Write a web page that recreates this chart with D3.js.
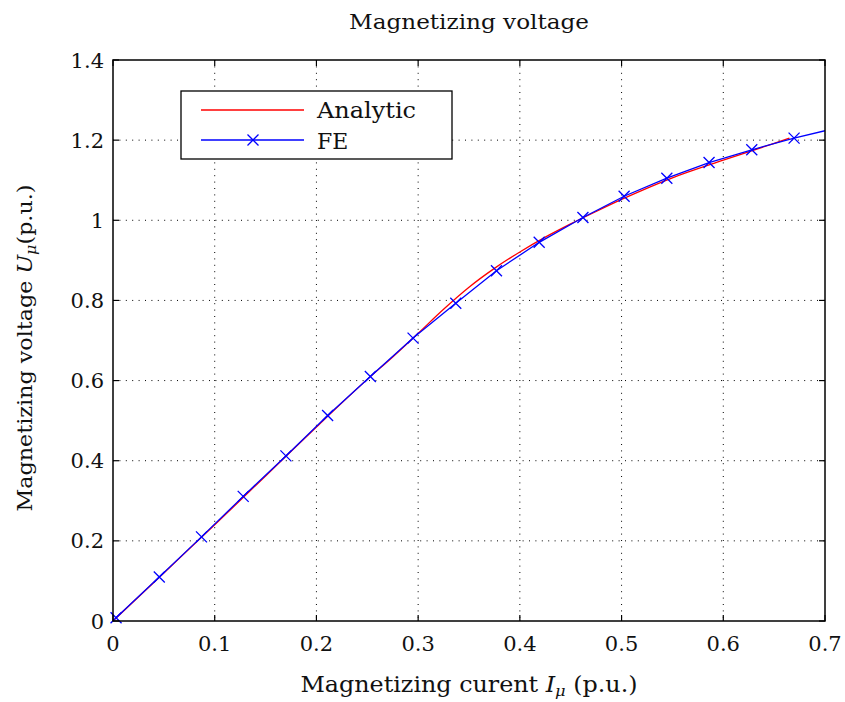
<!DOCTYPE html>
<html><head><meta charset="utf-8">
<script src="https://cdn.jsdelivr.net/npm/d3@7"></script>
<style>
body{margin:0;background:#fff;}
text{font-family:"DejaVu Serif","Liberation Serif",serif;fill:#111;}
</style></head><body>
<svg id="c" width="845" height="702"></svg>
<script>
const feX = [0.003,0.0455,0.087,0.128,0.170,0.211,0.253,0.295,0.337,0.377,0.419,0.462,0.5025,0.5445,0.586,0.628,0.6696,0.70];
const feY = [0.008,0.110,0.210,0.311,0.412,0.513,0.610,0.706,0.793,0.874,0.945,1.007,1.060,1.105,1.144,1.176,1.205,1.2235];
const feMarkers = 17; // markers on first 17 points
const anX = [0,0.05,0.1,0.15,0.2,0.25,0.275,0.3,0.325,0.35,0.375,0.4,0.425,0.45,0.475,0.5,0.55,0.6,0.65,0.665];
const anY = [0,0.12,0.24,0.362,0.484,0.603,0.659,0.718,0.778,0.833,0.880,0.921,0.958,0.991,1.022,1.052,1.106,1.150,1.192,1.205];
const xTicks = [0,0.1,0.2,0.3,0.4,0.5,0.6,0.7];
const yTicks = [0,0.2,0.4,0.6,0.8,1,1.2,1.4];

const svg = d3.select("#c");
const L=113,R=825,T=60,B=621;
const x = d3.scaleLinear().domain([0,0.7]).range([L,R]);
const y = d3.scaleLinear().domain([0,1.4]).range([B,T]);

const g = svg.append("g");
xTicks.slice(1,-1).forEach(t=>{
  g.append("line").attr("x1",x(t)).attr("x2",x(t)).attr("y1",T).attr("y2",B)
   .attr("stroke","#000").attr("stroke-width",1).attr("stroke-dasharray","1,5.4");
});
yTicks.slice(1,-1).forEach(t=>{
  g.append("line").attr("x1",L).attr("x2",R).attr("y1",y(t)).attr("y2",y(t))
   .attr("stroke","#000").attr("stroke-width",1).attr("stroke-dasharray","1,5.4");
});

svg.append("clipPath").attr("id","clp").append("rect").attr("x",L).attr("y",T).attr("width",R-L).attr("height",B-T);

const line = d3.line().x(d=>x(d[0])).y(d=>y(d[1])).curve(d3.curveMonotoneX);
const an = anX.map((v,i)=>[v,anY[i]]);
const fe = feX.map((v,i)=>[v,feY[i]]);
svg.append("path").datum(an).attr("d",line).attr("fill","none").attr("stroke","#ff0000").attr("stroke-width",1.3).attr("clip-path","url(#clp)");
const lineLin = d3.line().x(d=>x(d[0])).y(d=>y(d[1]));
svg.append("path").datum(fe).attr("d",lineLin).attr("fill","none").attr("stroke","#0000ff").attr("stroke-width",1.3).attr("clip-path","url(#clp)");

const s=5.5;
function cross(sel,cx,cy){
  sel.append("path").attr("d",`M${cx-s},${cy-s}L${cx+s},${cy+s}M${cx-s},${cy+s}L${cx+s},${cy-s}`)
   .attr("stroke","#0000ff").attr("stroke-width",1.3).attr("fill","none");
}
fe.slice(0,feMarkers).forEach(d=>cross(svg,x(d[0]),y(d[1])));

svg.append("rect").attr("x",L).attr("y",T).attr("width",R-L).attr("height",B-T).attr("fill","none").attr("stroke","#000").attr("stroke-width",1.5);

const tk=6;
xTicks.forEach(t=>{
  svg.append("line").attr("x1",x(t)).attr("x2",x(t)).attr("y1",B).attr("y2",B-tk).attr("stroke","#000").attr("stroke-width",1.2);
  svg.append("line").attr("x1",x(t)).attr("x2",x(t)).attr("y1",T).attr("y2",T+tk).attr("stroke","#000").attr("stroke-width",1.2);
  svg.append("text").attr("x",x(t)).attr("y",651).attr("text-anchor","middle").attr("font-size",21).text(String(t));
});
yTicks.forEach(t=>{
  svg.append("line").attr("x1",L).attr("x2",L+tk).attr("y1",y(t)).attr("y2",y(t)).attr("stroke","#000").attr("stroke-width",1.2);
  svg.append("line").attr("x1",R).attr("x2",R-tk).attr("y1",y(t)).attr("y2",y(t)).attr("stroke","#000").attr("stroke-width",1.2);
  svg.append("text").attr("x",104).attr("y",y(t)+7.5).attr("text-anchor","end").attr("font-size",21).text(String(t));
});

svg.append("text").attr("x",469).attr("y",29).attr("text-anchor","middle").attr("font-size",20)
  .attr("textLength",240).attr("lengthAdjust","spacingAndGlyphs").text("Magnetizing voltage");

const xl = svg.append("text").attr("x",469).attr("y",692).attr("text-anchor","middle").attr("font-size",22)
  .attr("textLength",337).attr("lengthAdjust","spacingAndGlyphs");
xl.append("tspan").text("Magnetizing curent ");
xl.append("tspan").attr("font-style","italic").text("I");
xl.append("tspan").attr("font-style","italic").attr("font-size",15).attr("dy",4).text("μ");
xl.append("tspan").attr("dy",-4).text(" (p.u.)");

const yl = svg.append("text").attr("transform","translate(32,348) rotate(-90)").attr("text-anchor","middle").attr("font-size",21)
  .attr("textLength",327).attr("lengthAdjust","spacingAndGlyphs");
yl.append("tspan").text("Magnetizing voltage ");
yl.append("tspan").attr("font-style","italic").text("U");
yl.append("tspan").attr("font-style","italic").attr("font-size",15).attr("dy",4).text("μ");
yl.append("tspan").attr("dy",-4).text("(p.u.)");

svg.append("rect").attr("x",181).attr("y",91).attr("width",271).attr("height",68).attr("fill","#fff").attr("stroke","#000").attr("stroke-width",1.3);
svg.append("line").attr("x1",201).attr("x2",304).attr("y1",110).attr("y2",110).attr("stroke","#ff0000").attr("stroke-width",1.3);
svg.append("line").attr("x1",201).attr("x2",304).attr("y1",140).attr("y2",140).attr("stroke","#0000ff").attr("stroke-width",1.3);
cross(svg,253,140);
svg.append("text").attr("x",317).attr("y",118).attr("font-size",22).attr("textLength",99).attr("lengthAdjust","spacingAndGlyphs").text("Analytic");
svg.append("text").attr("x",317).attr("y",149).attr("font-size",22).text("FE");
</script></body></html>
